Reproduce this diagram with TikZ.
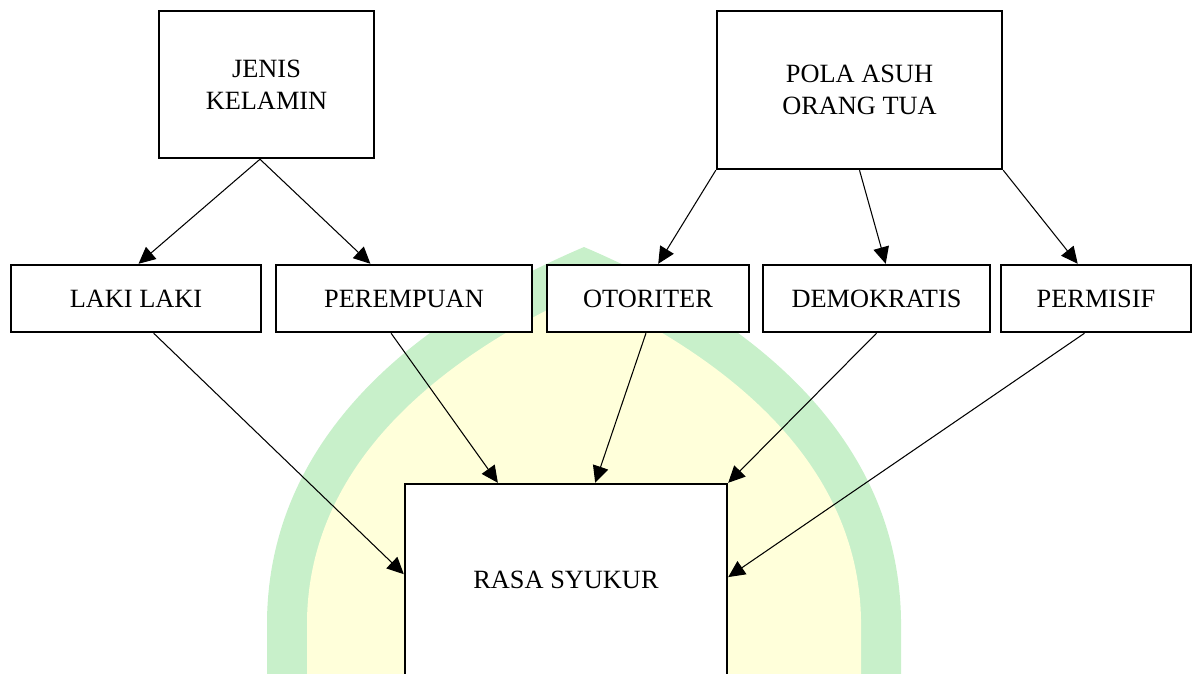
\documentclass[tikz,border=0pt]{standalone}
\usepackage{fontspec}
\setmainfont{Liberation Serif}
\usetikzlibrary{calc,arrows.meta}
\definecolor{wmgreen}{RGB}{200,240,202}
\definecolor{wmyellow}{RGB}{255,255,218}
\begin{document}
\begin{tikzpicture}[x=0.02cm,y=-0.02cm,
  box/.style={draw=black,line width=1.4pt,fill=white,inner sep=2pt,align=center,
    font=\fontsize{15}{18.2}\selectfont},
  conn/.style={line width=0.6pt,-{Triangle[length=9.5pt,width=9pt]}}]
\useasboundingbox (0,0) rectangle (1195,673);
\clip (0,0) rectangle (1195,673);
% watermark
\fill[wmgreen] (267,700) -- (267,620) .. controls (270,410) and (460,300) .. (584,247)
  .. controls (708,300) and (898,410) .. (901,620) -- (901,700) -- cycle;
\fill[wmyellow] (307,700) -- (307,620) .. controls (310,440) and (480,340) .. (584,292)
  .. controls (688,340) and (858,440) .. (861,620) -- (861,700) -- cycle;
% nodes
\node[box,minimum width=4.30cm,minimum height=2.94cm] (jenis) at (266.5,84.5) {JENIS\\KELAMIN};
\node[box,minimum width=5.70cm,minimum height=3.16cm] (pola) at (859.5,90) {POLA ASUH\\ORANG TUA};
\node[box,minimum width=5.00cm,minimum height=1.34cm] (laki) at (136,298.5) {LAKI LAKI};
\node[box,minimum width=5.12cm,minimum height=1.34cm] (perempuan) at (404,298.5) {PEREMPUAN};
\node[box,minimum width=4.04cm,minimum height=1.34cm] (otoriter) at (648,298.5) {OTORITER};
\node[box,minimum width=4.54cm,minimum height=1.34cm] (demokratis) at (876.5,298.5) {DEMOKRATIS};
\node[box,minimum width=3.80cm,minimum height=1.34cm] (permisif) at (1096,298.5) {PERMISIF};
\node[box,minimum width=6.44cm,minimum height=3.84cm] (rasa) at (566,580) {RASA SYUKUR};
% connectors
\draw[conn] ($(jenis.south west)!0.47!(jenis.south east)$) -- ($(laki.north west)!0.51!(laki.north east)$);
\draw[conn] ($(jenis.south west)!0.47!(jenis.south east)$) -- ($(perempuan.north west)!0.37!(perempuan.north east)$);
\draw[conn] (pola.south west) -- ($(otoriter.north west)!0.55!(otoriter.north east)$);
\draw[conn] ($(pola.south west)!0.50!(pola.south east)$) -- ($(demokratis.north west)!0.54!(demokratis.north east)$);
\draw[conn] (pola.south east) -- ($(permisif.north west)!0.405!(permisif.north east)$);
\draw[conn] ($(laki.south west)!0.57!(laki.south east)$) -- ($(rasa.north west)!0.47!(rasa.south west)$);
\draw[conn] ($(perempuan.south west)!0.45!(perempuan.south east)$) -- ($(rasa.north west)!0.29!(rasa.north east)$);
\draw[conn] ($(otoriter.south west)!0.49!(otoriter.south east)$) -- ($(rasa.north west)!0.59!(rasa.north east)$);
\draw[conn] ($(demokratis.south west)!0.50!(demokratis.south east)$) -- (rasa.north east);
\draw[conn] ($(permisif.south west)!0.44!(permisif.south east)$) -- ($(rasa.north east)!0.485!(rasa.south east)$);
\end{tikzpicture}
\end{document}
